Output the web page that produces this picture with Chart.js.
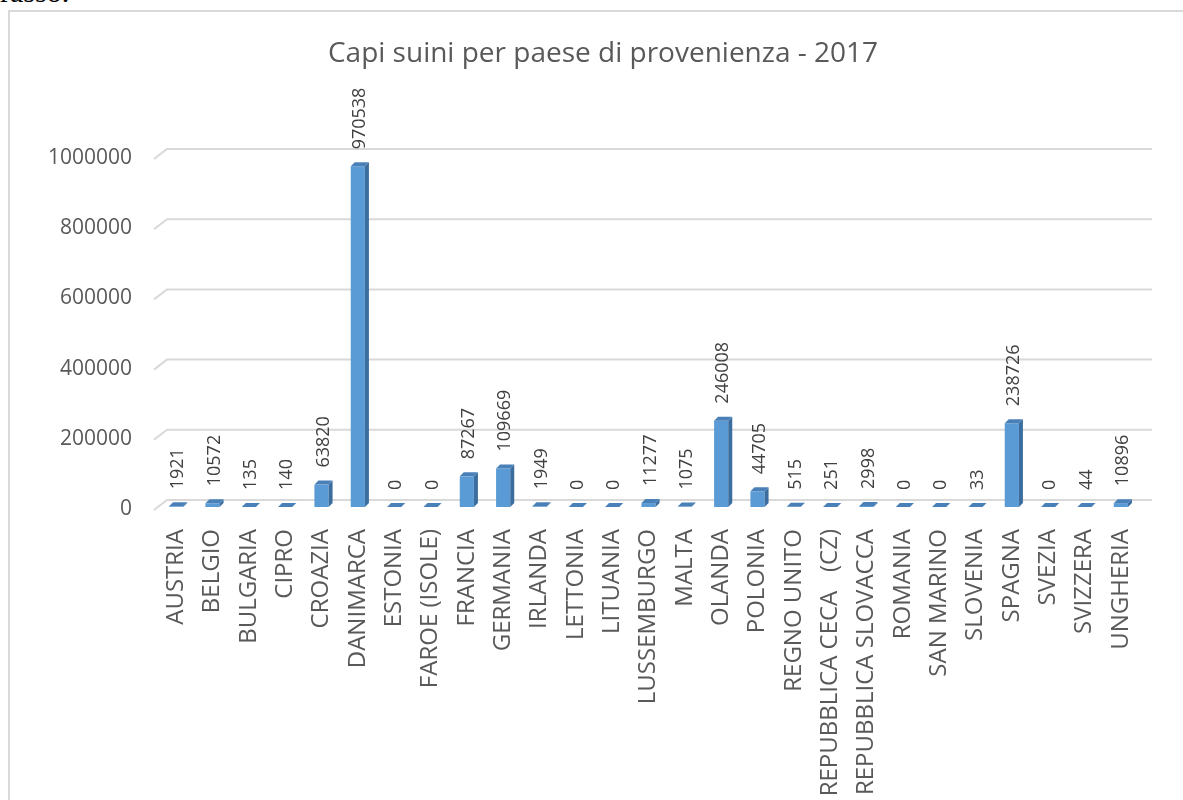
<!DOCTYPE html>
<html>
<head>
<meta charset="utf-8">
<title>Capi suini per paese di provenienza - 2017</title>
<script src="https://cdn.jsdelivr.net/npm/chart.js@4/dist/chart.umd.min.js"></script>
<style>
  html, body { margin: 0; padding: 0; background: #ffffff; overflow: hidden; }
  body { width: 1183px; height: 800px; position: relative; }
  #lead {
    position: absolute; left: 0; top: -23px; margin: 0;
    font-family: "Liberation Serif", "DejaVu Serif", serif;
    font-size: 30px; line-height: 30px; color: #000000; white-space: nowrap;
  }
  #frame {
    position: absolute; left: 8px; top: 10px; width: 1200px; height: 820px;
    border: 2px solid #d9d9d9; box-sizing: border-box;
  }
  #chart { position: absolute; left: 0; top: 0; }
</style>
</head>
<body>
<p id="lead">rasso.</p>
<div id="frame"></div>
<canvas id="chart" width="1183" height="800"></canvas>
<script>
// Countries of origin
const categories = [
  'AUSTRIA', 'BELGIO', 'BULGARIA', 'CIPRO', 'CROAZIA', 'DANIMARCA', 'ESTONIA',
  'FAROE (ISOLE)', 'FRANCIA', 'GERMANIA', 'IRLANDA', 'LETTONIA', 'LITUANIA',
  'LUSSEMBURGO', 'MALTA', 'OLANDA', 'POLONIA', 'REGNO UNITO',
  'REPUBBLICA CECA   (CZ)', 'REPUBBLICA SLOVACCA', 'ROMANIA', 'SAN MARINO',
  'SLOVENIA', 'SPAGNA', 'SVEZIA', 'SVIZZERA', 'UNGHERIA'
];

// Number of pigs per country, 2017
const pigCounts = [
  1921, 10572, 135, 140, 63820, 970538, 0,
  0, 87267, 109669, 1949, 0, 0,
  11277, 1075, 246008, 44705, 515,
  251, 2998, 0, 0,
  33, 238726, 0, 44, 10896
];

// Value axis ticks
const yTickValues = [0, 200000, 400000, 600000, 800000, 1000000];

const chartTitle = 'Capi suini per paese di provenienza - 2017';

const FONT = '"Open Sans", "Noto Sans", sans-serif';
const DEPTH_X = 4, DEPTH_Y = 4;          // bar extrusion
const WALL_X = 13, WALL_Y = 10;          // back wall offset of gridlines
const TITLE_INSET = 67;                  // title is centred on the frame, not the canvas

// Centre the title over the framed area to the right of the value labels' margin
const titleInset = {
  id: 'titleInset',
  afterLayout(chart) {
    if (chart.titleBlock) chart.titleBlock.left += TITLE_INSET;
  }
};

// Gridlines drawn on the back wall with a slanted side edge
const wallGrid = {
  id: 'wallGrid',
  beforeDatasetsDraw(chart) {
    const { ctx, chartArea, scales } = chart;
    ctx.save();
    ctx.strokeStyle = '#d9d9d9';
    ctx.lineWidth = 2;
    for (const v of yTickValues) {
      const py = scales.y.getPixelForValue(v);
      ctx.beginPath();
      ctx.moveTo(chartArea.left - 4, py + 3);
      ctx.lineTo(chartArea.left - 4 + WALL_X, py + 3 - WALL_Y);
      ctx.lineTo(chartArea.right + WALL_X, py + 3 - WALL_Y);
      ctx.stroke();
    }
    ctx.restore();
  }
};

// Top and side faces of each column, then the value labels
const columns3d = {
  id: 'columns3d',
  afterDatasetsDraw(chart) {
    const { ctx } = chart;
    const meta = chart.getDatasetMeta(0);
    ctx.save();
    meta.data.forEach((bar, i) => {
      const { x, y, base, width } = bar.getProps(['x', 'y', 'base', 'width'], true);
      const l = x - width / 2, r = x + width / 2;
      // side face
      if (base - y > 0.5) {
        ctx.fillStyle = '#3b6d9f';
        ctx.beginPath();
        ctx.moveTo(r, y);
        ctx.lineTo(r + DEPTH_X, y - DEPTH_Y);
        ctx.lineTo(r + DEPTH_X, base - DEPTH_Y);
        ctx.lineTo(r, base);
        ctx.closePath();
        ctx.fill();
      }
      // top face
      ctx.fillStyle = '#4a80b8';
      ctx.beginPath();
      ctx.moveTo(l, y);
      ctx.lineTo(l + DEPTH_X, y - DEPTH_Y);
      ctx.lineTo(r + DEPTH_X, y - DEPTH_Y);
      ctx.lineTo(r, y);
      ctx.closePath();
      ctx.fill();

      // value label, rotated
      ctx.save();
      ctx.translate(x + 2, y - 17);
      ctx.rotate(-Math.PI / 2);
      ctx.fillStyle = '#404040';
      ctx.font = '18px ' + FONT;
      ctx.textAlign = 'left';
      ctx.textBaseline = 'middle';
      ctx.fillText(String(pigCounts[i]), 0, 0);
      ctx.restore();
    });
    ctx.restore();
  }
};

new Chart(document.getElementById('chart'), {
  type: 'bar',
  data: {
    labels: categories,
    datasets: [{
      data: pigCounts,
      backgroundColor: '#5b9bd5',
      borderWidth: 0,
      categoryPercentage: 1,
      barPercentage: 0.39
    }]
  },
  options: {
    responsive: false,
    animation: false,
    devicePixelRatio: 1,
    layout: { padding: { top: 0, left: 0, right: 44, bottom: 0 } },
    plugins: {
      legend: { display: false },
      tooltip: { enabled: false },
      title: {
        display: true,
        text: chartTitle,
        color: '#595959',
        font: { family: FONT, size: 28, weight: 'normal' },
        padding: { top: 37, bottom: 85.4 }
      }
    },
    scales: {
      x: {
        grid: { display: false, drawTicks: false },
        border: { display: false },
        ticks: {
          color: '#595959',
          font: { family: FONT, size: 24 },
          minRotation: 90,
          maxRotation: 90,
          autoSkip: false,
          padding: 22
        },
        afterFit(scale) { scale.height = 293; }
      },
      y: {
        min: 0,
        max: 1000000,
        grid: { display: false, drawTicks: false },
        border: { display: false },
        afterBuildTicks(scale) { scale.ticks = yTickValues.map(v => ({ value: v })); },
        ticks: {
          color: '#595959',
          font: { family: FONT, size: 21 },
          padding: 26,
          labelOffset: 2,
          callback: v => String(v)
        },
        afterFit(scale) { scale.width = 158; }
      }
    }
  },
  plugins: [titleInset, wallGrid, columns3d]
});
</script>
</body>
</html>
